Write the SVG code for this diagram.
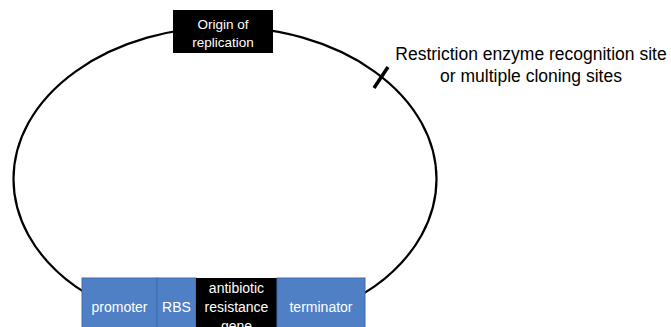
<svg xmlns="http://www.w3.org/2000/svg" width="671" height="327" viewBox="0 0 671 327">
<style>
.lbl{font-family:"Liberation Sans",Arial,sans-serif;fill:#fff;text-anchor:middle}
.blue{fill:#4F80C5;stroke:#3E6DAE;stroke-width:1}
.blk{fill:#000}
.note{font-family:"Liberation Sans",Arial,sans-serif;fill:#000;text-anchor:middle;font-size:17.5px}
</style>
<rect width="671" height="327" fill="#fff"/>
<g id="connectors">
<ellipse cx="225" cy="179" rx="211.5" ry="152" fill="none" stroke="#000" stroke-width="2.2"/>
<line x1="374" y1="88" x2="388" y2="67" stroke="#000" stroke-width="3.5"/>
</g>
<g id="origin">
<rect class="blk" x="173" y="10" width="100" height="43"/>
<text class="lbl" x="223" y="29" font-size="13.5">Origin of</text>
<text class="lbl" x="223" y="47" font-size="13.5">replication</text>
</g>
<g id="restriction">
<text class="note" x="531" y="60">Restriction enzyme recognition site</text>
<text class="note" x="531" y="82">or multiple cloning sites</text>
</g>
<g id="promoter">
<rect class="blue" x="82" y="278" width="75" height="52"/>
<text class="lbl" x="119.5" y="312" font-size="14">promoter</text>
</g>
<g id="rbs">
<rect class="blue" x="157" y="278" width="39" height="52"/>
<text class="lbl" x="176.5" y="312" font-size="14">RBS</text>
</g>
<g id="antibiotic">
<rect class="blk" x="196" y="278" width="81" height="52"/>
<text class="lbl" x="236.5" y="293" font-size="14">antibiotic</text>
<text class="lbl" x="236.5" y="312" font-size="14">resistance</text>
<text class="lbl" x="236.5" y="331" font-size="14">gene</text>
</g>
<g id="terminator">
<rect class="blue" x="277" y="278" width="88" height="52"/>
<text class="lbl" x="321" y="312" font-size="14">terminator</text>
</g>
</svg>
